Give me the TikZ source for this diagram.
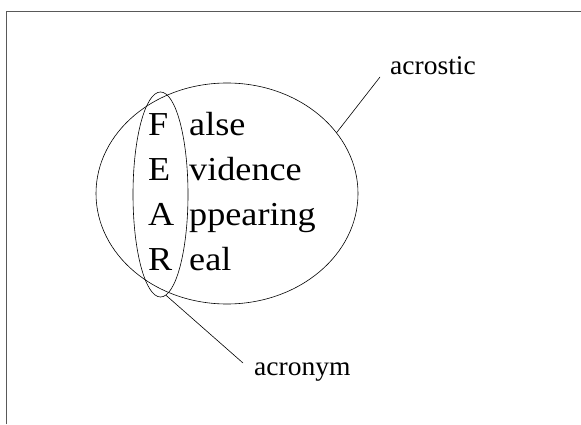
\documentclass[tikz,border=0pt]{standalone}
\usepackage{fontspec}
\setmainfont{Liberation Serif}
\newfontfamily\bigfam{Liberation Serif}[FakeStretch=1.08]
\newfontfamily\lblfam{Liberation Serif}[FakeStretch=1.02]
\usetikzlibrary{shapes.geometric}
\begin{document}
\begin{tikzpicture}[x=1pt,y=1pt,
  oval/.style={ellipse,draw,line width=0.6pt,inner sep=0pt,outer sep=0pt},
  bigtxt/.style={inner sep=0pt,anchor=base west,font=\bigfam\fontsize{33.5}{40}\selectfont},
  lbltxt/.style={inner sep=0pt,anchor=base west,font=\lblfam\fontsize{27}{32}\selectfont},
  conn/.style={line width=0.6pt},
  framec/.style={line width=1.3pt,draw=black!65}]
\useasboundingbox (0,0) rectangle (581,424);
\draw[framec] (6.5,0) -- (6.5,412.5) -- (581,412.5);
\node[oval,minimum width=262pt,minimum height=221pt] (bigE) at (227,230.5) {};
\node[oval,minimum width=55pt,minimum height=205pt] (smallE) at (160.5,229.5) {};
\node[bigtxt] (F) at (148,289) {F};
\node[bigtxt] (E) at (148,244) {E};
\node[bigtxt] (A) at (148,199) {A};
\node[bigtxt] (R) at (148,154) {R};
\node[bigtxt] (wF) at (189,289) {alse};
\node[bigtxt] (wE) at (189,244) {vidence};
\node[bigtxt] (wA) at (189,199) {ppearing};
\node[bigtxt] (wR) at (189,154) {eal};
\node[lbltxt] (acrostic) at (390,349) {acrostic};
\node[lbltxt] (acronym) at (254,49) {acronym};
\draw[conn] (bigE.29.2) -- ([xshift=-10pt,yshift=-2pt]acrostic.base west);
\draw[conn] (smallE.-87.5) -- ([xshift=-11pt,yshift=12pt]acronym.base west);
\end{tikzpicture}
\end{document}
